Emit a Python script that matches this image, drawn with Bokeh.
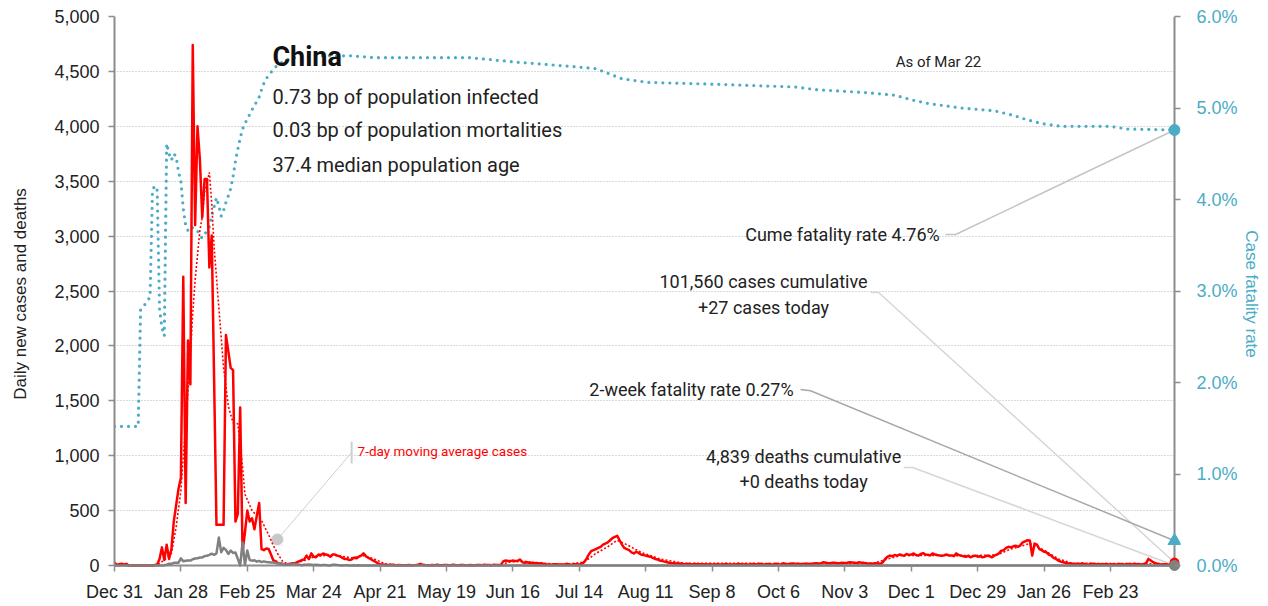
import numpy as np
import pandas as pd
from bokeh.plotting import figure
from bokeh.models import Range1d, LinearAxis, FixedTicker, Label, PrintfTickFormatter, NumeralTickFormatter, BoxAnnotation
from bokeh.embed import file_html
from bokeh.resources import INLINE

# ---------------- data (China, daily from 2019-12-31) ----------------
start_date = "2019-12-31"
cases = [
    27, 5, 12, 17, 10, 15, 0, 0, 0, 0, 0, 0, 0, 0,
    0, 0, 0, 4, 10, 60, 165, 50, 190, 60, 150, 400, 550, 700,
    800, 2630, 570, 2050, 1650, 4740, 3100, 4000, 3700, 3170, 3520, 3520, 2715, 3005,
    1700, 370, 370, 370, 370, 2100, 1950, 1800, 1780, 400, 470, 1440, 130, 300,
    500, 400, 430, 330, 450, 570, 150, 140, 155, 150, 100, 45, 40, 20,
    20, 15, 10, 12, 15, 20, 20, 30, 40, 50, 55, 90, 60, 110,
    80, 75, 100, 95, 110, 100, 95, 80, 100, 100, 90, 85, 70, 60,
    60, 50, 55, 70, 65, 80, 90, 110, 85, 70, 60, 45, 35, 20,
    12, 10, 8, 5, 5, 6, 4, 3, 5, 3, 2, 3, 4, 2,
    3, 5, 8, 15, 6, 4, 3, 2, 5, 3, 6, 4, 3, 5,
    5, 3, 4, 6, 3, 2, 4, 5, 3, 2, 4, 3, 2, 5,
    4, 3, 6, 5, 4, 3, 6, 5, 4, 8, 40, 45, 42, 40,
    45, 40, 42, 55, 30, 25, 30, 22, 25, 20, 22, 18, 20, 15,
    12, 10, 8, 10, 12, 9, 8, 10, 12, 15, 10, 8, 12, 10,
    10, 15, 30, 60, 100, 130, 140, 150, 160, 170, 190, 200, 210, 230,
    250, 260, 270, 230, 190, 160, 150, 140, 120, 110, 125, 115, 100, 95,
    90, 85, 80, 70, 60, 55, 45, 40, 35, 30, 25, 22, 20, 18,
    15, 18, 14, 12, 15, 10, 12, 14, 10, 12, 9, 11, 10, 12,
    10, 8, 12, 10, 9, 11, 14, 10, 8, 12, 10, 15, 12, 10,
    12, 10, 8, 14, 12, 10, 15, 11, 9, 12, 14, 10, 12, 15,
    12, 10, 20, 14, 12, 15, 18, 13, 16, 14, 12, 17, 15, 13,
    15, 18, 20, 16, 22, 30, 25, 20, 22, 25, 24, 20, 22, 25,
    22, 25, 30, 28, 25, 22, 30, 26, 24, 20, 16, 18, 15, 20,
    18, 15, 30, 60, 80, 90, 85, 95, 90, 100, 95, 88, 105, 95,
    100, 110, 95, 90, 105, 112, 100, 98, 92, 110, 100, 95, 90, 88,
    95, 100, 90, 92, 85, 110, 95, 90, 85, 80, 88, 75, 85, 90,
    80, 85, 75, 80, 90, 85, 75, 90, 100, 110, 135, 140, 160, 170,
    165, 175, 180, 170, 185, 210, 220, 230, 228, 90, 200, 190, 150, 140,
    125, 120, 100, 90, 70, 60, 45, 35, 30, 25, 20, 18, 15, 12,
    15, 12, 18, 14, 10, 12, 15, 13, 11, 9, 12, 10, 14, 11,
    10, 12, 8, 11, 14, 10, 9, 12, 13, 10, 15, 11, 12, 10,
    14, 20, 60, 45, 30, 20, 15, 12, 10, 11, 8, 10, 15, 27,
]
deaths = [
    0, 0, 0, 0, 0, 0, 0, 0, 0, 0, 0, 0, 0, 0,
    0, 0, 0, 0, 0, 0, 1, 2, 8, 16, 15, 24, 26, 26,
    65, 38, 43, 46, 45, 57, 64, 65, 73, 73, 86, 89, 97, 108,
    97, 110, 254, 121, 160, 142, 105, 136, 114, 118, 60, 0, 210, 5,
    136, 50, 44, 47, 35, 42, 31, 38, 31, 30, 28, 27, 22, 17,
    22, 11, 7, 13, 10, 14, 13, 11, 8, 3, 7, 6, 9, 7,
    4, 6, 5, 3, 5, 5, 1, 1, 7, 6, 4, 3, 1, 2,
    2, 1, 1, 3, 0, 2, 1, 0, 1, 0, 0, 0, 0, 0,
    0, 0, 0, 1, 0, 0, 0, 0, 0, 0, 0, 0, 0, 0,
    0, 0, 1, 0, 0, 0, 0, 0, 0, 0, 0, 0, 0, 0,
    0, 0, 0, 0, 0, 0, 0, 0, 0, 0, 0, 0, 0, 0,
    0, 0, 0, 0, 0, 0, 0, 0, 0, 0, 0, 0, 0, 0,
    0, 0, 0, 0, 0, 0, 0, 0, 0, 0, 0, 0, 0, 0,
    0, 0, 0, 0, 0, 0, 0, 0, 0, 0, 0, 0, 0, 0,
    0, 0, 0, 0, 0, 0, 0, 0, 0, 0, 0, 0, 0, 0,
    0, 0, 0, 0, 0, 0, 0, 0, 0, 0, 0, 0, 0, 0,
    0, 0, 0, 0, 0, 0, 0, 0, 0, 0, 0, 0, 0, 0,
    0, 0, 0, 0, 0, 0, 0, 0, 0, 0, 0, 0, 0, 0,
    0, 0, 0, 0, 0, 0, 0, 0, 0, 0, 0, 0, 0, 0,
    0, 0, 0, 0, 0, 0, 0, 0, 0, 0, 0, 0, 0, 0,
    0, 0, 0, 0, 0, 0, 0, 0, 0, 0, 0, 0, 0, 0,
    0, 0, 0, 0, 0, 0, 0, 0, 0, 0, 0, 0, 0, 0,
    0, 0, 0, 0, 0, 0, 0, 0, 0, 0, 0, 0, 0, 0,
    0, 0, 0, 0, 0, 0, 0, 0, 0, 0, 0, 0, 0, 0,
    0, 0, 0, 0, 0, 0, 0, 0, 0, 0, 0, 0, 0, 0,
    0, 0, 0, 0, 0, 0, 0, 0, 0, 0, 0, 0, 0, 0,
    0, 0, 0, 0, 0, 0, 0, 0, 0, 0, 0, 0, 0, 0,
    0, 0, 0, 0, 0, 0, 0, 0, 0, 0, 0, 0, 0, 0,
    0, 0, 0, 0, 0, 0, 0, 0, 0, 0, 0, 0, 0, 0,
    0, 0, 0, 0, 0, 0, 0, 0, 0, 0, 0, 0, 0, 0,
    0, 0, 0, 0, 0, 0, 0, 0, 0, 0, 0, 0, 0, 0,
    0, 0, 0, 0, 0, 0, 0, 0, 0, 0, 0, 0, 0, 0,
]
# 7-day moving average of cases (day offset, value)
ma_day = [0, 7, 14, 18, 21, 24, 26, 28, 30, 32, 33, 34, 36, 37, 38, 40, 41, 42, 44, 46,
          48, 50, 52, 54, 55, 58, 62, 65, 67, 69, 71, 73, 76, 80, 85, 92, 100, 105, 110, 114,
          120, 163, 166, 172, 180, 190, 198, 203, 208, 212, 216, 222, 230, 240, 300, 320, 326, 332, 360, 372,
          378, 386, 392, 398, 404, 447]
ma_val = [12, 5, 1, 2, 50, 110, 350, 680, 1290, 1890, 2300, 2600, 3050, 3170, 3400, 3580, 3300, 2900, 2350, 1800,
          1450, 1300, 1290, 900, 650, 500, 410, 280, 180, 100, 35, 15, 20, 45, 85, 95, 70, 90, 55, 15,
          5, 5, 30, 40, 20, 10, 30, 110, 170, 230, 190, 120, 60, 20, 18, 20, 60, 92, 90, 95,
          150, 200, 140, 60, 20, 15]
# cumulative case fatality rate, % (day offset, value)
cfr_day = [0, 10, 11, 12, 13, 14, 15, 16, 17, 18, 19, 20, 21, 22, 23, 24, 25, 26, 27, 28,
           29, 30, 31, 32, 33, 34, 35, 36, 37, 38, 39, 40, 41, 42, 43, 44, 45, 46, 47, 48,
           49, 50, 51, 52, 53, 54, 55, 56, 57, 58, 59, 60, 61, 62, 63, 64, 65, 66, 67, 68,
           70, 73, 76, 85, 100, 110, 150, 170, 190, 203, 209, 214, 225, 253, 287, 296, 316, 329, 336, 343,
           357, 371, 379, 385, 391, 399, 420, 427, 447]
cfr_pct = [1.52, 1.52, 2.79, 2.82, 2.86, 2.9, 2.93, 4.1, 4.15, 4.1, 2.8, 2.6, 2.51, 4.61, 4.5, 4.43, 4.5, 4.47, 4.3, 4.2,
           3.9, 3.72, 3.66, 3.7, 3.69, 3.68, 3.66, 3.6, 3.58, 3.62, 3.66, 3.7, 3.82, 3.92, 4.02, 3.93, 3.82, 3.88, 3.97, 4.04,
           4.12, 4.25, 4.42, 4.55, 4.67, 4.77, 4.83, 4.88, 4.93, 4.98, 5.03, 5.07, 5.12, 5.2, 5.27, 5.32, 5.36, 5.39, 5.42, 5.45,
           5.49, 5.53, 5.55, 5.57, 5.57, 5.55, 5.55, 5.5, 5.46, 5.43, 5.37, 5.32, 5.28, 5.26, 5.23, 5.2, 5.17, 5.14, 5.09, 5.05,
           5.0, 4.97, 4.92, 4.87, 4.83, 4.80, 4.80, 4.77, 4.76]

tick_dates = ["2019-12-31", "2020-01-28", "2020-02-25", "2020-03-24", "2020-04-21", "2020-05-19",
              "2020-06-16", "2020-07-14", "2020-08-11", "2020-09-08", "2020-10-06", "2020-11-03",
              "2020-12-01", "2020-12-29", "2021-01-26", "2021-02-23"]
tick_labels = ["Dec 31", "Jan 28", "Feb 25", "Mar 24", "Apr 21", "May 19", "Jun 16", "Jul 14",
               "Aug 11", "Sep 8", "Oct 6", "Nov 3", "Dec 1", "Dec 29", "Jan 26", "Feb 23"]
left_ticks = [0, 500, 1000, 1500, 2000, 2500, 3000, 3500, 4000, 4500, 5000]
right_ticks = [0, 1, 2, 3, 4, 5, 6]

country = "China"
infected_bp = 0.73
mortality_bp = 0.03
median_age = 37.4
cum_cases = 101560
cum_deaths = 4839
cfr_now = 4.76
two_week_cfr = 0.27
as_of = "Mar 22"

# ---------------- derived ----------------
t0 = pd.Timestamp(start_date)
days = list(range(len(cases)))
tick_days = [(pd.Timestamp(d) - t0).days for d in tick_dates]
last_day = days[-1]

FONT = "Roboto"
PLAIN = "Liberation Sans"
TEAL = "#4bacc6"
RED = "#ff0000"
GREY = "#808080"
AXIS = "#8c8c8c"

# the frame extends a few pixels past the axes so end markers are not clipped
W_AX, H_AX = 1060, 549
PAD = 6
px_per_day = W_AX / last_day
pad_x = PAD / px_per_day
pad_y = PAD * 5000 / H_AX
pad_c = PAD * 6 / H_AX

p = figure(frame_width=W_AX + PAD, frame_height=H_AX + PAD, output_backend="svg", toolbar_location=None,
           x_range=Range1d(0, last_day + pad_x), y_range=Range1d(-pad_y, 5000),
           min_border_left=114, min_border_right=80, min_border_top=16, min_border_bottom=32)
p.outline_line_color = None
p.background_fill_color = "white"
p.border_fill_color = "white"
p.extra_y_ranges = {"cfr": Range1d(-pad_c, 6)}

p.xgrid.visible = False
p.ygrid.grid_line_color = "#b4b4b4"
p.ygrid.grid_line_dash = "1 2"
p.ygrid.grid_line_width = 1
p.add_layout(BoxAnnotation(left=last_day, fill_color="white", fill_alpha=1.0, line_color=None, level="underlay"))

# left axis
ya = p.yaxis[0]
ya.ticker = FixedTicker(ticks=left_ticks)
ya.formatter = NumeralTickFormatter(format="0,0")
ya.axis_label = "Daily new cases and deaths"
ya.bounds = (0, 5000)
# bottom axis
xa = p.xaxis[0]
xa.ticker = FixedTicker(ticks=tick_days)
xa.major_label_overrides = {d: l for d, l in zip(tick_days, tick_labels)}

ra = LinearAxis(y_range_name="cfr", ticker=FixedTicker(ticks=right_ticks),
                formatter=PrintfTickFormatter(format="%.1f%%"), axis_label="Case fatality rate")
p.add_layout(ra, "right")

for ax in (xa, ya, ra):
    ax.axis_line_color = AXIS
    ax.axis_line_width = 2
    ax.major_tick_line_color = AXIS
    ax.major_tick_line_width = 1.5
    ax.major_tick_out = 6
    ax.major_tick_in = 0
    ax.minor_tick_line_color = None
    ax.major_label_text_font = PLAIN
    ax.major_label_text_font_size = "18px"
    ax.major_label_text_color = "#222222"
    ax.axis_label_text_font = PLAIN
    ax.axis_label_text_font_size = "17px"
    ax.axis_label_text_font_style = "normal"
    ax.axis_label_text_color = "#222222"
ya.major_label_standoff = 9
ya.axis_label_standoff = 21
# bottom and right axes sit PAD px outside the drawn axis lines
for ax in (xa, ra):
    ax.axis_line_color = None
    ax.major_tick_out = 0
    ax.major_tick_in = PAD
xa.major_label_standoff = 10
ra.major_label_standoff = 16
ra.axis_label_standoff = 1
ra.major_label_text_color = TEAL
ra.axis_label_text_color = TEAL

# drawn axis lines for bottom and right
p.line([0, last_day], [0, 0], line_color=AXIS, line_width=2)
p.line([last_day, last_day], [0, 6], y_range_name="cfr", line_color=AXIS, line_width=2)

# ---------------- leader lines ----------------
def lead(xs, ys, color, rng="default", width=1.5):
    p.line(xs, ys, line_color=color, line_width=width, y_range_name=rng)

lead([350.5, 354.7, last_day], [3.617, 3.617, cfr_pct[-1]], "#c4c4c4", "cfr")
lead([318.9, 322.2, last_day], [2486, 2486, cases[-1]], "#d6d6d6")
lead([289.3, 293.5, last_day], [1.923, 1.91, two_week_cfr], "#a8a8a8", "cfr")
lead([332.8, 336.6, last_day], [893, 893, deaths[-1]], "#d6d6d6")
lead([100.0, 68.7], [1029, 237], "#cfcfcf", width=1)
lead([100.0, 100.0], [929, 1129], "#cfcfcf", width=2)
p.scatter([68.7], [237], size=11, marker="circle", fill_color="#c8c8c8", line_color="#c8c8c8")

# ---------------- series ----------------
p.line(cfr_day, cfr_pct, y_range_name="cfr", line_color=TEAL, line_width=3.2,
       line_dash="0 7", line_cap="round")
p.line(ma_day, ma_val, line_color=RED, line_width=1.6, line_dash="2 2")
p.line(days, cases, line_color=RED, line_width=2.5, line_join="round")
p.line(days, deaths, line_color=GREY, line_width=2.5, line_join="round")

# end markers
p.scatter([last_day], [cfr_pct[-1]], y_range_name="cfr", size=11, marker="circle",
          fill_color=TEAL, line_color=TEAL)
p.scatter([last_day], [two_week_cfr], y_range_name="cfr", size=13, marker="triangle",
          fill_color=TEAL, line_color=TEAL)
p.scatter([last_day], [cases[-1]], size=9, marker="circle", fill_color=RED, line_color=RED)
p.scatter([last_day], [deaths[-1]], size=10, marker="circle", fill_color=GREY, line_color=GREY)

# ---------------- labels ----------------
def lbl(x, y, text, size, align="left", color="#222222", style="normal", rng="default", font=FONT):
    p.add_layout(Label(x=x, y=y, y_range_name=rng, text=text, text_font=font,
                       text_font_size=size, text_align=align, text_baseline="middle",
                       text_color=color, text_font_style=style))

lbl(66.6, 4627, country, "27px", style="bold", color="#111111")
lbl(66.6, 4271, f"{infected_bp:.2f} bp of population infected", "20px")
lbl(66.6, 3962, f"{mortality_bp:.2f} bp of population mortalities", "20px")
lbl(66.6, 3643, f"{median_age:.1f} median population age", "20px")
lbl(329.4, 4590, f"As of {as_of}", "15px")
lbl(348.0, 3.617, f"Cume fatality rate {cfr_now:.2f}%", "18px", align="right", rng="cfr")
lbl(273.7, 2587, f"{cum_cases:,} cases cumulative", "18px", align="center")
lbl(273.7, 2350, f"+{cases[-1]} cases today", "18px", align="center")
lbl(286.4, 1.923, f"2-week fatality rate {two_week_cfr:.2f}%", "18px", align="right", rng="cfr")
lbl(290.6, 993, f"{cum_deaths:,} deaths cumulative", "18px", align="center")
lbl(290.6, 765, f"+{deaths[-1]} deaths today", "18px", align="center")
lbl(102.5, 1047, "7-day moving average cases", "13.5px", color=RED)

open("out.html", "w").write(file_html(p, INLINE))
